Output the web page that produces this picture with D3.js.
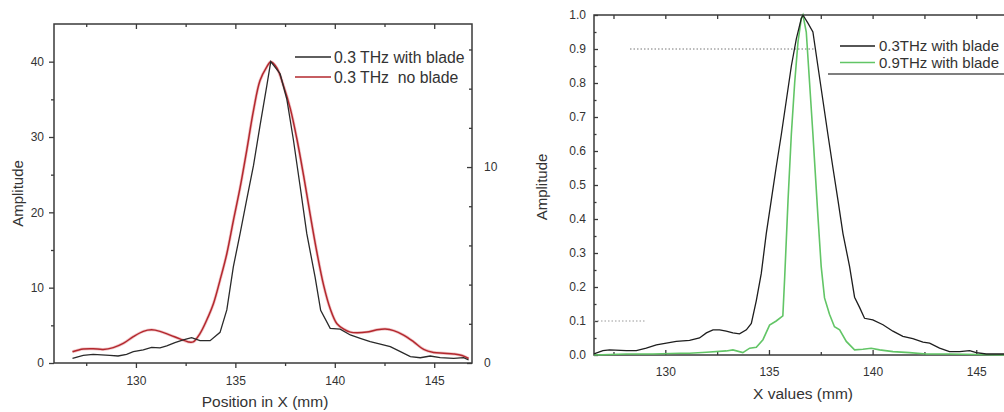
<!DOCTYPE html>
<meta charset="utf-8">
<script src="https://d3js.org/d3.v7.min.js"></script>
<style>
  body { margin: 0; background: #fff; }
  text { font-family: "Liberation Sans", Arial, sans-serif; fill: #333; }
</style>
<div id="chart"></div>
<script>

// ---- left panel data (Position in X, mm / Amplitude) ----
var leftBladeX = [126.81,127.35,127.85,128.69,129.1,129.53,129.87,130.37,130.79,131.21,131.55,131.96,132.38,132.8,133.22,133.73,134.23,134.57,134.9,135.24,135.57,135.91,136.24,136.58,136.78,137.25,137.59,137.92,138.26,138.59,139.01,139.29,139.77,140.27,140.78,141.28,141.78,142.29,142.79,143.3,143.8,144.3,144.8,145.3,145.98,146.48,146.73];
var leftBladeY = [0.62,1.02,1.15,1.02,0.93,1.15,1.5,1.73,2.08,2.0,2.26,2.7,3.06,3.37,2.97,2.97,4.07,7.04,12.8,17.2,21.7,26.2,31.5,36.8,40.0,38.4,35.0,29.6,23.4,17.2,11.4,7.0,4.6,4.5,3.72,3.28,2.84,2.52,2.17,1.5,0.84,0.7,0.93,0.71,0.62,0.71,0.4];

var leftNoBladeX = [126.81,127.35,127.85,128.35,128.86,129.36,129.87,130.37,130.79,131.21,131.72,132.21,132.64,132.88,133.22,133.56,133.9,134.23,134.57,134.9,135.24,135.57,135.91,136.24,136.58,136.78,137.08,137.42,137.76,138.09,138.43,138.77,139.1,139.44,139.77,140.11,140.45,140.78,141.11,141.61,142.12,142.54,142.96,143.46,143.97,144.47,144.97,145.48,145.98,146.4,146.73];
var leftNoBladeY = [1.5,1.86,1.9,1.8,2.04,2.6,3.5,4.2,4.4,4.2,3.7,3.2,2.8,2.8,3.9,5.7,7.9,11.0,14.5,18.9,23.3,28.2,33.5,37.5,39.3,40.0,39.2,36.8,33.8,29.8,24.9,19.6,14.7,10.3,7.2,5.2,4.5,4.1,4.0,4.1,4.4,4.5,4.3,3.7,2.8,1.8,1.4,1.3,1.2,1.0,0.6];

// ---- right panel data (X values, mm / normalised amplitude) ----
var right03X = [126.56,126.99,127.31,128.12,128.6,129.08,129.57,130.05,130.53,131.17,131.65,131.98,132.3,132.62,132.94,133.26,133.58,133.91,134.15,134.39,134.63,134.87,135.11,135.35,135.6,135.84,136.08,136.32,136.56,136.64,136.88,137.12,137.36,137.6,137.84,138.08,138.33,138.57,138.89,139.13,139.37,139.61,140.01,140.5,140.98,141.46,141.94,142.43,142.75,143.23,143.71,144.2,144.68,145.0,145.48,146.32,147.3];
var right03Y = [0.003,0.013,0.015,0.013,0.013,0.02,0.03,0.035,0.04,0.043,0.05,0.065,0.074,0.074,0.07,0.065,0.062,0.074,0.093,0.16,0.24,0.357,0.455,0.553,0.65,0.75,0.85,0.93,0.99,1.0,0.976,0.95,0.85,0.75,0.65,0.553,0.455,0.357,0.26,0.17,0.14,0.108,0.103,0.089,0.07,0.055,0.048,0.038,0.035,0.02,0.01,0.01,0.013,0.007,0.003,0.003,0.003];

var right09X = [126.56,128.12,129.4,130.7,131.17,131.98,132.94,133.26,133.74,134.07,134.39,134.71,135.03,135.35,135.67,135.76,135.92,136.08,136.24,136.4,136.56,136.64,136.8,136.96,137.12,137.36,137.52,137.68,137.92,138.16,138.41,138.73,139.13,139.53,139.93,140.34,140.98,141.78,142.59,143.71,146.32,147.3];
var right09Y = [0.0,0.003,0.003,0.005,0.005,0.008,0.012,0.015,0.007,0.02,0.023,0.045,0.088,0.1,0.115,0.23,0.455,0.65,0.8,0.92,0.99,1.0,0.95,0.8,0.65,0.41,0.26,0.168,0.12,0.083,0.074,0.04,0.015,0.017,0.02,0.015,0.01,0.007,0.003,0.003,0.0,0.0];

// ticks / labels
var leftXTicks = [130, 135, 140, 145];
var leftYTicks = [0, 10, 20, 30, 40];
var leftY2Ticks = [0, 10];
var rightXTicks = [130, 135, 140, 145];
var rightYTicks = [0, 0.1, 0.2, 0.3, 0.4, 0.5, 0.6, 0.7, 0.8, 0.9, 1.0];
var leftLegend = ["0.3 THz with blade", "0.3 THz  no blade"];
var rightLegend = ["0.3THz with blade", "0.9THz with blade"];

var W = 1004, H = 412;
var svg = d3.select("#chart").append("svg")
  .attr("width", W).attr("height", H);

var axisCol = "#3a3a3a";

function pts(xs, ys) {
  return xs.map(function(d, i) { return [d, ys[i]]; });
}

// ================= LEFT PANEL =================
var L = {left: 54, right: 472, top: 24, bottom: 363};
var lx = d3.scaleLinear().domain([125.88, 146.9]).range([L.left, L.right]);
var ly = d3.scaleLinear().domain([0, 45]).range([L.bottom, L.top]);
var ly2 = d3.scaleLinear().domain([0, 17.3]).range([L.bottom, L.top]);

var gL = svg.append("g");

function styleAxis(g) {
  g.select(".domain").remove();
  g.selectAll("line").attr("stroke", axisCol).attr("stroke-width", 1.3);
  g.selectAll("text").style("font-size", "12px").attr("fill", "#444");
}

// bottom axis (major + minor)
gL.append("g").attr("transform", "translate(0," + L.bottom + ")")
  .call(d3.axisBottom(lx).tickValues(leftXTicks).tickSize(5).tickPadding(8))
  .call(styleAxis);
gL.append("g").attr("transform", "translate(0," + L.bottom + ")")
  .call(d3.axisBottom(lx).tickValues([127.5, 132.5, 137.5, 142.5]).tickSize(3).tickFormat(""))
  .call(styleAxis);
// top axis ticks (inward)
gL.append("g").attr("transform", "translate(0," + L.top + ")")
  .call(d3.axisBottom(lx).tickValues(leftXTicks).tickSize(5).tickFormat(""))
  .call(styleAxis);
gL.append("g").attr("transform", "translate(0," + L.top + ")")
  .call(d3.axisBottom(lx).tickValues([127.5, 132.5, 137.5, 142.5]).tickSize(3).tickFormat(""))
  .call(styleAxis);
// left axis
gL.append("g").attr("transform", "translate(" + L.left + ",0)")
  .call(d3.axisLeft(ly).tickValues(leftYTicks).tickSize(5).tickPadding(5))
  .call(styleAxis);
gL.append("g").attr("transform", "translate(" + L.left + ",0)")
  .call(d3.axisLeft(ly).tickValues([5, 15, 25, 35]).tickSize(3).tickFormat(""))
  .call(styleAxis);
// right axis (inward ticks, labels outside)
gL.append("g").attr("transform", "translate(" + L.right + ",0)")
  .call(d3.axisLeft(ly2).tickValues([2, 4, 6, 8, 12, 14, 16]).tickSize(3).tickFormat(""))
  .call(styleAxis);
gL.append("g").attr("transform", "translate(" + L.right + ",0)")
  .call(d3.axisRight(ly2).tickValues(leftY2Ticks).tickSize(0).tickPadding(12))
  .call(styleAxis);
gL.append("g").attr("transform", "translate(" + L.right + ",0)")
  .call(d3.axisLeft(ly2).tickValues(leftY2Ticks).tickSize(5).tickFormat(""))
  .call(styleAxis);

// frame
gL.append("rect")
  .attr("x", L.left).attr("y", L.top)
  .attr("width", L.right - L.left).attr("height", L.bottom - L.top)
  .attr("fill", "none").attr("stroke", axisCol).attr("stroke-width", 1.5);

var lineL = d3.line().x(function(d) { return lx(d[0]); }).y(function(d) { return ly(d[1]); });

gL.append("path").datum(pts(leftNoBladeX, leftNoBladeY))
  .attr("d", lineL.curve(d3.curveCatmullRom))
  .attr("fill", "none").attr("stroke", "#e8a0a4").attr("stroke-width", 3).attr("opacity", 0.6);
gL.append("path").datum(pts(leftNoBladeX, leftNoBladeY))
  .attr("d", lineL)
  .attr("fill", "none").attr("stroke", "#b3282e").attr("stroke-width", 1.5);
gL.append("path").datum(pts(leftBladeX, leftBladeY))
  .attr("d", lineL.curve(d3.curveLinear))
  .attr("fill", "none").attr("stroke", "#2a2a2a").attr("stroke-width", 1.3);

// axis titles
gL.append("text")
  .attr("transform", "translate(23," + ((L.top + L.bottom) / 2) + ") rotate(-90)")
  .attr("text-anchor", "middle").style("font-size", "15px").text("Amplitude");
gL.append("text")
  .attr("x", (L.left + L.right) / 2 + 2).attr("y", 407)
  .attr("text-anchor", "middle").style("font-size", "15.5px").text("Position in X (mm)");

// legend
var legLCols = ["#2a2a2a", "#b3282e"];
leftLegend.forEach(function(t, i) {
  var y = 57 + i * 20;
  gL.append("line").attr("x1", 295).attr("x2", 331).attr("y1", y).attr("y2", y)
    .attr("stroke", legLCols[i]).attr("stroke-width", 1.5);
  gL.append("text").attr("x", 334).attr("y", y + 5.5)
    .style("font-size", "15.8px").style("white-space", "pre").text(t);
});

// ================= RIGHT PANEL =================
var R = {left: 594, right: 1012, top: 15, bottom: 355};
var rx = d3.scaleLinear().domain([126.56, 146.72]).range([R.left, R.left + 20.73 * (146.72 - 126.56)]);
var ry = d3.scaleLinear().domain([0, 1]).range([R.bottom, R.top]);
var gR = svg.append("g");

gR.append("g").attr("transform", "translate(0," + R.bottom + ")")
  .call(d3.axisTop(rx).tickValues(rightXTicks).tickSize(5).tickFormat(""))
  .call(styleAxis);
gR.append("g").attr("transform", "translate(0," + R.bottom + ")")
  .call(d3.axisBottom(rx).tickValues(rightXTicks).tickSize(0).tickPadding(12))
  .call(styleAxis);
gR.append("g").attr("transform", "translate(0," + R.bottom + ")")
  .call(d3.axisTop(rx).tickValues([127.5, 132.5, 137.5, 142.5]).tickSize(3).tickFormat(""))
  .call(styleAxis);
gR.append("g").attr("transform", "translate(0," + R.top + ")")
  .call(d3.axisBottom(rx).tickValues(rightXTicks.concat([127.5, 132.5, 137.5, 142.5])).tickSize(4).tickFormat(""))
  .call(styleAxis);
gR.append("g").attr("transform", "translate(" + R.left + ",0)")
  .call(d3.axisLeft(ry).tickValues(rightYTicks).tickSize(0).tickPadding(8).tickFormat(d3.format(".1f")))
  .call(styleAxis);
gR.append("g").attr("transform", "translate(" + R.left + ",0)")
  .call(d3.axisRight(ry).tickValues(rightYTicks).tickSize(4).tickFormat(""))
  .call(styleAxis);
gR.append("g").attr("transform", "translate(" + R.left + ",0)")
  .call(d3.axisRight(ry).tickValues(d3.range(0.05, 1, 0.1)).tickSize(2.5).tickFormat(""))
  .call(styleAxis);

gR.append("rect")
  .attr("x", R.left).attr("y", R.top)
  .attr("width", R.right - R.left).attr("height", R.bottom - R.top)
  .attr("fill", "none").attr("stroke", axisCol).attr("stroke-width", 1.5);

// dotted guide lines at 0.9 and 0.1
gR.append("line").attr("x1", 630).attr("x2", 815).attr("y1", ry(0.9)).attr("y2", ry(0.9))
  .attr("stroke", "#777").attr("stroke-width", 1).attr("stroke-dasharray", "1.5,2");
gR.append("line").attr("x1", R.left).attr("x2", 645).attr("y1", ry(0.1)).attr("y2", ry(0.1))
  .attr("stroke", "#999").attr("stroke-width", 1).attr("stroke-dasharray", "1.5,2");

var lineR = d3.line().x(function(d) { return rx(d[0]); }).y(function(d) { return ry(d[1]); });

gR.append("path").datum(pts(right09X, right09Y))
  .attr("d", lineR)
  .attr("fill", "none").attr("stroke", "#62c566").attr("stroke-width", 1.6);
gR.append("path").datum(pts(right03X, right03Y))
  .attr("d", lineR)
  .attr("fill", "none").attr("stroke", "#1e1e1e").attr("stroke-width", 1.3);

gR.append("text")
  .attr("transform", "translate(547," + ((R.top + R.bottom) / 2 + 2) + ") rotate(-90)")
  .attr("text-anchor", "middle").style("font-size", "15px").text("Amplitude");
gR.append("text")
  .attr("x", 803).attr("y", 399)
  .attr("text-anchor", "middle").style("font-size", "15.5px").text("X values (mm)");

// legend
var legRCols = ["#1e1e1e", "#62c566"];
rightLegend.forEach(function(t, i) {
  var y = 46 + i * 16.5;
  gR.append("line").attr("x1", 840).attr("x2", 875).attr("y1", y).attr("y2", y)
    .attr("stroke", legRCols[i]).attr("stroke-width", 1.6);
  gR.append("text").attr("x", 879).attr("y", y + 5)
    .style("font-size", "15px").text(t);
});
gR.append("line").attr("x1", 828).attr("x2", W).attr("y1", 74).attr("y2", 74)
  .attr("stroke", "#555").attr("stroke-width", 1.3);

</script>
